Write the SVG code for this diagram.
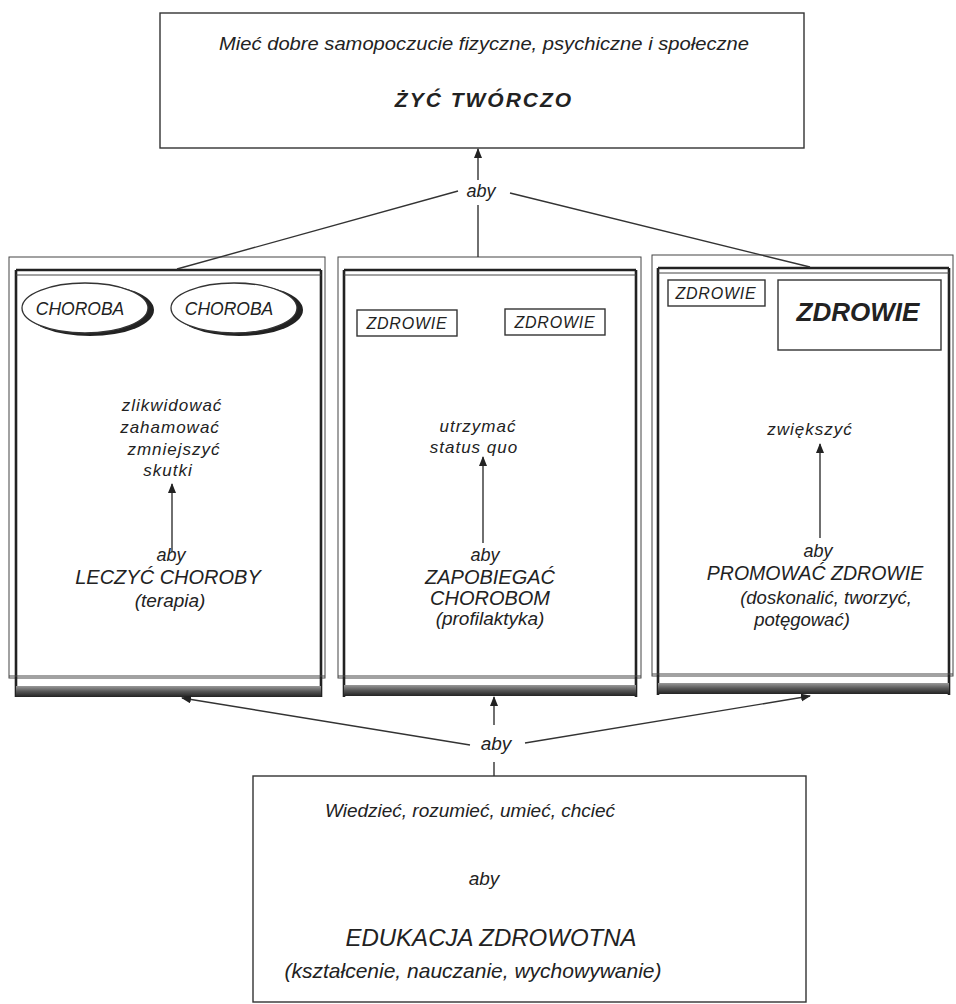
<svg xmlns="http://www.w3.org/2000/svg" width="956" height="1004" viewBox="0 0 956 1004">
<style>
.t{font-family:"Liberation Sans","DejaVu Sans",sans-serif;font-style:italic;fill:#222;text-anchor:middle}
.b{font-weight:bold}
.ln{stroke:#333;stroke-width:1.4;fill:none}
.box{fill:#fff;stroke:#333;stroke-width:1.4}
.thin{stroke:#444;stroke-width:1;fill:none}
.thick{stroke:#222;stroke-width:2.6;fill:none}
.bar{fill:url(#barg)}
</style>
<defs>
<linearGradient id="barg" x1="0" y1="0" x2="0" y2="1">
<stop offset="0" stop-color="#999"/><stop offset="0.5" stop-color="#555"/><stop offset="1" stop-color="#222"/>
</linearGradient>
<marker id="ah" markerWidth="10" markerHeight="14" refX="9" refY="4" orient="auto" markerUnits="userSpaceOnUse">
<path d="M0,0 L10,4 L0,8 Z" fill="#222"/>
</marker>
</defs>
<rect width="956" height="1004" fill="#fff"/>

<g id="top">
<rect class="box" x="160" y="13" width="644" height="135"/>
<text class="t" x="484" y="50" font-size="17.5" textLength="530" lengthAdjust="spacingAndGlyphs">Mieć dobre samopoczucie fizyczne, psychiczne i społeczne</text>
<text class="t b" x="484" y="107" font-size="21" letter-spacing="2">ŻYĆ TWÓRCZO</text>
</g>

<g id="panel-left">
<rect class="thin" x="9" y="257" width="316" height="421"/>
<line class="thick" x1="16" y1="270" x2="16" y2="697"/>
<line class="thick" x1="321" y1="270" x2="321" y2="697"/>
<line class="thick" x1="16" y1="270" x2="321" y2="270"/>
<line class="thin" x1="16" y1="275" x2="321" y2="275"/>
<line class="thin" x1="9" y1="676" x2="325" y2="676"/>
<rect class="bar" x="16" y="686" width="305" height="11"/>
<ellipse cx="90" cy="310" rx="64" ry="26" fill="#222"/>
<ellipse cx="85" cy="308" rx="63" ry="25" fill="#fff" stroke="#333" stroke-width="1.3"/>
<text class="t" x="80" y="315" font-size="17.5">CHOROBA</text>
<ellipse cx="239" cy="310" rx="64" ry="26" fill="#222"/>
<ellipse cx="234" cy="308" rx="63" ry="25" fill="#fff" stroke="#333" stroke-width="1.3"/>
<text class="t" x="229" y="315" font-size="17.5">CHOROBA</text>
<text class="t" x="172" y="411" font-size="17" letter-spacing="1">zlikwidować</text>
<text class="t" x="170" y="433" font-size="17" letter-spacing="1">zahamować</text>
<text class="t" x="174" y="455" font-size="17" letter-spacing="1">zmniejszyć</text>
<text class="t" x="168" y="476" font-size="17" letter-spacing="1">skutki</text>
<text class="t" x="171" y="561" font-size="18">aby</text>
<text class="t" x="168" y="584" font-size="20">LECZYĆ CHOROBY</text>
<text class="t" x="170" y="607" font-size="19">(terapia)</text>
</g>

<g id="panel-middle">
<rect class="thin" x="338" y="257" width="303" height="421"/>
<line class="thick" x1="344" y1="270" x2="344" y2="697"/>
<line class="thick" x1="636" y1="270" x2="636" y2="697"/>
<line class="thick" x1="344" y1="270" x2="636" y2="270"/>
<line class="thin" x1="344" y1="275" x2="636" y2="275"/>
<line class="thin" x1="338" y1="676" x2="641" y2="676"/>
<rect class="bar" x="344" y="685" width="292" height="11"/>
<rect class="box" x="357" y="310" width="100" height="26"/>
<text class="t" x="407" y="329" font-size="16" letter-spacing="0.8">ZDROWIE</text>
<rect class="box" x="505" y="309" width="100" height="26"/>
<text class="t" x="555" y="328" font-size="16" letter-spacing="0.8">ZDROWIE</text>
<text class="t" x="478" y="432" font-size="17" letter-spacing="1">utrzymać</text>
<text class="t" x="474" y="453" font-size="17" letter-spacing="1">status quo</text>
<text class="t" x="485" y="561" font-size="18">aby</text>
<text class="t" x="490" y="584" font-size="20">ZAPOBIEGAĆ</text>
<text class="t" x="490" y="605" font-size="20">CHOROBOM</text>
<text class="t" x="490" y="625" font-size="19">(profilaktyka)</text>
</g>

<g id="panel-right">
<rect class="thin" x="652" y="255" width="301" height="421"/>
<line class="thick" x1="658" y1="268" x2="658" y2="695"/>
<line class="thick" x1="949" y1="268" x2="949" y2="695"/>
<line class="thick" x1="658" y1="268" x2="949" y2="268"/>
<line class="thin" x1="658" y1="273" x2="949" y2="273"/>
<line class="thin" x1="652" y1="674" x2="953" y2="674"/>
<rect class="bar" x="658" y="683" width="291" height="11"/>
<rect class="box" x="668" y="280" width="97" height="26"/>
<text class="t" x="716" y="299" font-size="16" letter-spacing="0.8">ZDROWIE</text>
<rect class="box" x="778" y="280" width="163" height="70"/>
<text class="t b" x="858" y="321" font-size="26">ZDROWIE</text>
<text class="t" x="810" y="435" font-size="17" letter-spacing="1">zwiększyć</text>
<text class="t" x="818" y="557" font-size="18">aby</text>
<text class="t" x="815" y="580" font-size="19.5">PROMOWAĆ ZDROWIE</text>
<text class="t" x="826" y="604" font-size="18.5">(doskonalić, tworzyć,</text>
<text class="t" x="802" y="626" font-size="18.5">potęgować)</text>
</g>

<g id="bottom">
<rect class="box" x="253" y="776" width="553" height="226"/>
<text class="t" x="470" y="817" font-size="19">Wiedzieć, rozumieć, umieć, chcieć</text>
<text class="t" x="484" y="885" font-size="19">aby</text>
<text class="t" x="491" y="946" font-size="24">EDUKACJA ZDROWOTNA</text>
<text class="t" x="473" y="978" font-size="21">(kształcenie, nauczanie, wychowywanie)</text>
</g>

<g id="connectors">
<text class="t" x="481" y="197" font-size="18">aby</text>
<line class="ln" x1="478" y1="180" x2="478" y2="149" marker-end="url(#ah)"/>
<line class="ln" x1="478" y1="205" x2="478" y2="257"/>
<line class="ln" x1="458" y1="191" x2="177" y2="269"/>
<line class="ln" x1="510" y1="193" x2="810" y2="267"/>
<line class="ln" x1="172" y1="552" x2="172" y2="484" marker-end="url(#ah)"/>
<line class="ln" x1="483" y1="543" x2="483" y2="457" marker-end="url(#ah)"/>
<line class="ln" x1="820" y1="538" x2="820" y2="444" marker-end="url(#ah)"/>
<text class="t" x="496" y="750" font-size="19">aby</text>
<line class="ln" x1="494" y1="725" x2="494" y2="697" marker-end="url(#ah)"/>
<line class="ln" x1="470" y1="745" x2="182" y2="698" marker-end="url(#ah)"/>
<line class="ln" x1="525" y1="743" x2="810" y2="696" marker-end="url(#ah)"/>
<line class="ln" x1="494" y1="762" x2="494" y2="776"/>
</g>
</svg>
